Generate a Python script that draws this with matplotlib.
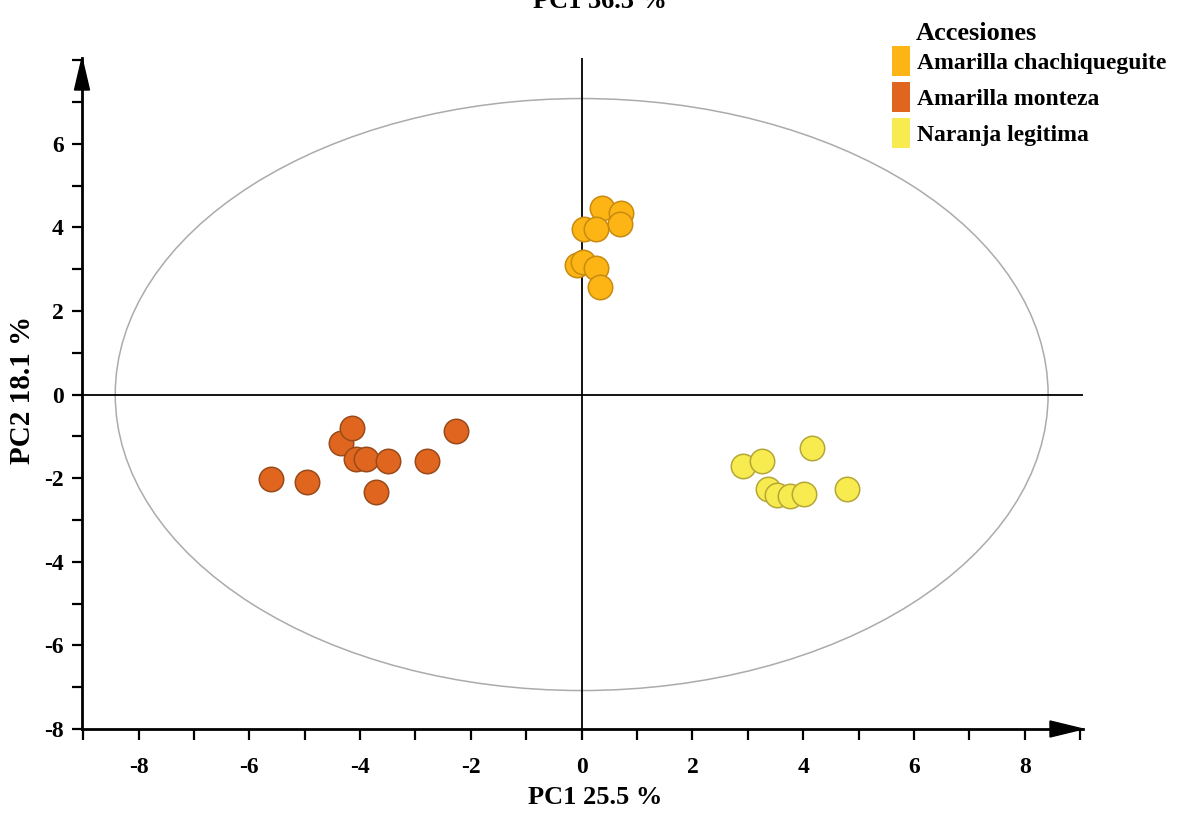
import matplotlib
matplotlib.use("Agg")
import matplotlib.pyplot as plt
from matplotlib.patches import Ellipse, Polygon, Patch
from matplotlib.ticker import MultipleLocator

plt.rcParams["font.family"] = ["Liberation Serif", "DejaVu Serif"]
plt.rcParams["font.weight"] = "bold"
plt.rcParams["axes.unicode_minus"] = False

# PCA scores per accession (PC1, PC2)
chachiqueguite_pc1 = [0.36, 0.71, 0.69, 0.04, 0.25, -0.09, 0.02, 0.25, 0.33]
chachiqueguite_pc2 = [4.46, 4.34, 4.08, 3.96, 3.96, 3.10, 3.17, 3.03, 2.58]

monteza_pc1 = [-5.61, -4.95, -4.34, -4.14, -4.07, -3.90, -3.50, -3.72, -2.79, -2.27]
monteza_pc2 = [-2.03, -2.08, -1.15, -0.79, -1.55, -1.53, -1.60, -2.32, -1.60, -0.88]

legitima_pc1 = [2.92, 3.25, 4.16, 3.36, 3.52, 3.76, 4.01, 4.79]
legitima_pc2 = [-1.72, -1.60, -1.29, -2.27, -2.41, -2.43, -2.39, -2.27]

accessions = ["Amarilla chachiqueguite", "Amarilla monteza", "Naranja legitima"]
face_colors = ["#FCB514", "#E0661F", "#F7EB50"]
edge_colors = ["#C98A10", "#9A4A1A", "#B5A737"]

# confidence ellipse (full width / height in score units)
ellipse_width = 16.84
ellipse_height = 14.16

x_ticks = [-8, -6, -4, -2, 0, 2, 4, 6, 8]
y_ticks = [-8, -6, -4, -2, 0, 2, 4, 6]

W, H = 1181, 814
fig = plt.figure(figsize=(W / 100, H / 100), dpi=100)

# axes frame in pixel terms
ax_l, ax_r, ax_t, ax_b = 82, 1083, 58, 729
ax = fig.add_axes([ax_l / W, 1 - ax_b / H, (ax_r - ax_l) / W, (ax_b - ax_t) / H])
ax.set_xlim(-9.02, 9.05)
ax.set_ylim(-8.0, 8.05)

ax.add_patch(Ellipse((0, 0), ellipse_width, ellipse_height, fill=False,
                     edgecolor="#ababab", lw=1.1, zorder=1))
ax.axhline(0, color="black", lw=1.3, zorder=2)
ax.axvline(0, color="black", lw=1.3, zorder=2)

groups = [(chachiqueguite_pc1, chachiqueguite_pc2),
          (monteza_pc1, monteza_pc2),
          (legitima_pc1, legitima_pc2)]
for (xs, ys), fc, ec, name in zip(groups, face_colors, edge_colors, accessions):
    ax.scatter(xs, ys, s=310, facecolor=fc, edgecolor=ec, linewidth=1.1,
               zorder=3, label=name)

for side in ("top", "right"):
    ax.spines[side].set_visible(False)
for side in ("left", "bottom"):
    ax.spines[side].set_linewidth(2.0)

ax.set_xticks(x_ticks)
ax.set_yticks(y_ticks)
ax.xaxis.set_minor_locator(MultipleLocator(1))
ax.yaxis.set_minor_locator(MultipleLocator(1))
ax.tick_params(axis="x", which="both", direction="out", length=8, width=1.6,
               labelsize=17, pad=12)
ax.tick_params(axis="y", which="both", direction="out", length=7, width=1.6,
               labelsize=17, pad=6)
for lab in ax.get_xticklabels() + ax.get_yticklabels():
    lab.set_fontweight("bold")

# arrow heads at the ends of both axes
aw = ax_r - ax_l
ah = ax_b - ax_t
ax.add_patch(Polygon([(0, 1), (-7.5 / aw, 1 - 32 / ah), (7.5 / aw, 1 - 32 / ah)],
                     closed=True, facecolor="black", edgecolor="black",
                     transform=ax.transAxes, clip_on=False, zorder=5))
ax.add_patch(Polygon([(1, 0), (1 - 33 / aw, 8 / ah), (1 - 33 / aw, -8 / ah)],
                     closed=True, facecolor="black", edgecolor="black",
                     transform=ax.transAxes, clip_on=False, zorder=5))

ax.set_xlabel("PC1 25.5 %", fontsize=19, fontweight="bold")
ax.xaxis.set_label_coords((595 - ax_l) / aw, (ax_b - 798) / ah)
ax.xaxis.label.set_va("center")
ax.set_ylabel("PC2 18.1 %", fontsize=21, fontweight="bold")
ax.yaxis.set_label_coords((23 - ax_l) / aw, (ax_b - 390) / ah)
ax.yaxis.label.set_va("center")

fig.text(600 / W, 1 - 8 / H, "PC1 36.3 %", fontsize=19, fontweight="bold",
         ha="center", va="baseline")

handles = [Patch(facecolor=c, edgecolor="none") for c in face_colors]
fig.legend(handles, accessions, loc="upper left",
           bbox_to_anchor=(892 / W, 1 - 46 / H), frameon=False,
           prop={"size": 17, "weight": "bold"}, borderpad=0, borderaxespad=0,
           handlelength=0.75, handleheight=1.55, handletextpad=0.3,
           labelspacing=0.28)
fig.text(916 / W, 1 - 33 / H, "Accesiones", fontsize=19, fontweight="bold",
         ha="left", va="center")

fig.savefig("out.png", dpi=100)
